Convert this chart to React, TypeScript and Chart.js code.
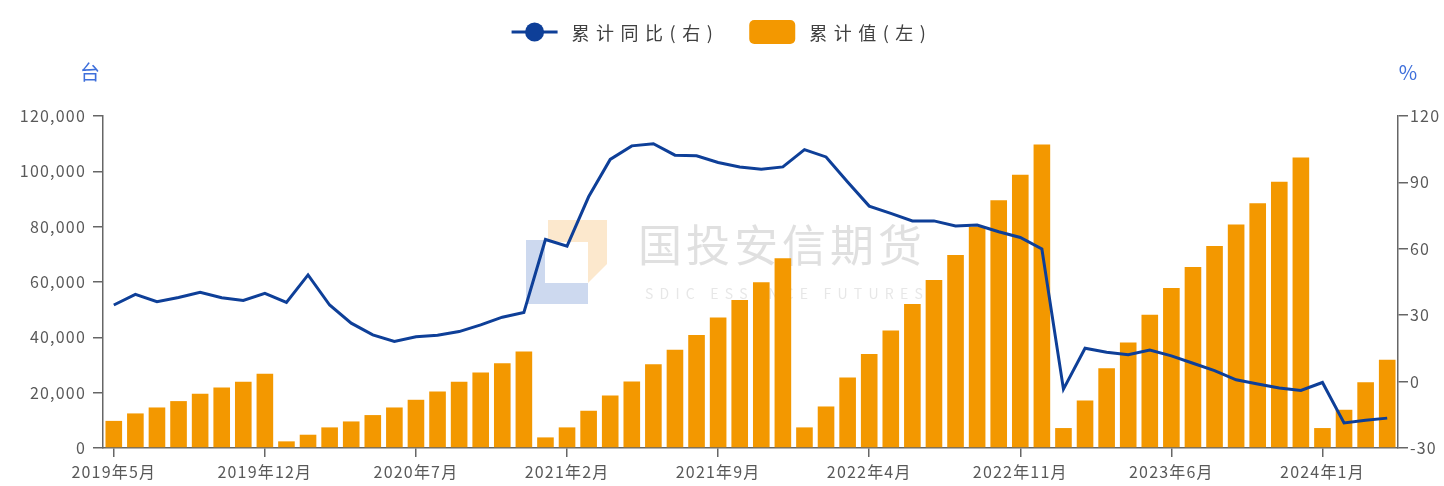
import React, { useEffect, useRef } from 'react';
import { Chart, registerables } from 'chart.js';

Chart.register(...registerables);

// ---------- data ----------
const months = [
  '2019年5月', '2019年6月', '2019年7月', '2019年8月', '2019年9月', '2019年10月', '2019年11月', '2019年12月',
  '2020年1月', '2020年2月', '2020年3月', '2020年4月', '2020年5月', '2020年6月', '2020年7月', '2020年8月',
  '2020年9月', '2020年10月', '2020年11月', '2020年12月',
  '2021年1月', '2021年2月', '2021年3月', '2021年4月', '2021年5月', '2021年6月', '2021年7月', '2021年8月',
  '2021年9月', '2021年10月', '2021年11月', '2021年12月',
  '2022年1月', '2022年2月', '2022年3月', '2022年4月', '2022年5月', '2022年6月', '2022年7月', '2022年8月',
  '2022年9月', '2022年10月', '2022年11月', '2022年12月',
  '2023年1月', '2023年2月', '2023年3月', '2023年4月', '2023年5月', '2023年6月', '2023年7月', '2023年8月',
  '2023年9月', '2023年10月', '2023年11月', '2023年12月',
  '2024年1月', '2024年2月', '2024年3月', '2024年4月',
];

// 累计值 (台), left axis
const cumulativeValue = [
  9800, 12500, 14650, 16950, 19600, 21870, 23920, 26800,
  2400, 4800, 7450, 9600, 11900, 14650, 17430, 20420, 23920, 27280, 30670, 34860,
  3830, 7450, 13460, 18990, 24030, 30300, 35470, 40880, 47130, 53510, 59890, 68550,
  7450, 15010, 25480, 34020, 42440, 52060, 60720, 69740, 79950, 89580, 98720, 109660,
  7210, 17170, 28860, 38100, 48200, 57840, 65410, 72990, 80800, 88500, 96200, 104970,
  7210, 13820, 23800, 31860,
];

// 累计同比 (%), right axis
const cumulativeYoY = [
  34.6, 39.4, 36.1, 38.0, 40.3, 37.9, 36.7, 39.9,
  35.8, 48.2, 34.6, 26.4, 21.1, 18.1, 20.3, 20.9, 22.6, 25.6, 29.1, 31.2,
  64.2, 61.2, 83.5, 100.4, 106.5, 107.5, 102.3, 102.0, 99.0, 97.0, 96.0, 97.0,
  104.8, 101.5, 90.2, 79.3, 76.0, 72.6, 72.6, 70.3, 70.7, 67.7, 65.1, 59.9,
  -3.4, 15.1, 13.3, 12.1, 14.3, 11.6, 8.3, 5.0, 0.8, -1.1, -2.9, -4.0,
  -0.4, -18.7, -17.5, -16.5,
];

const seriesNames = ['累计同比(右)', '累计值(左)'];
const unitLabels = ['台', '%'];
const leftAxisRange = [0, 120000, 20000];
const rightAxisRange = [-30, 120, 30];
const labelEvery = 7;
const watermarkTitle = '国投安信期货';
const watermarkSub = 'SDIC ESSENCE FUTURES';

// ---------- styles ----------
const BAR_COLOR = '#F39800';
const LINE_COLOR = '#0E3F98';
const AXIS_COLOR = '#666666';
const TEXT_COLOR = '#595959';
const UNIT_COLOR = '#3E6FDB';
const CJK = '"Noto Sans CJK SC", "Noto Sans", sans-serif';

function fitSpacing(ctx: CanvasRenderingContext2D, text: string, target: number) {
  (ctx as any).letterSpacing = '0px';
  const w = ctx.measureText(text).width;
  const n = Array.from(text).length;
  return Math.max(0, (target - w) / n);
}

export default function App() {
  const ref = useRef<HTMLCanvasElement | null>(null);

  useEffect(() => {
    document.body.style.margin = '0';
    const canvas = ref.current;
    if (!canvas) return;

    const spacingPlugin = {
      id: 'spacing',
      beforeUpdate(chart: any) {
        chart.ctx.letterSpacing = '1.2px';
      },
    };

    const watermarkPlugin = {
      id: 'watermark',
      beforeDatasetsDraw(chart: any) {
        const ctx = chart.ctx as CanvasRenderingContext2D;
        ctx.save();
        // logo
        ctx.fillStyle = 'rgba(196, 210, 236, 0.85)';
        ctx.beginPath();
        ctx.moveTo(526, 240);
        ctx.lineTo(545, 240);
        ctx.lineTo(545, 283);
        ctx.lineTo(588, 283);
        ctx.lineTo(588, 304);
        ctx.lineTo(526, 304);
        ctx.closePath();
        ctx.fill();
        ctx.fillStyle = 'rgba(252, 228, 196, 0.85)';
        ctx.beginPath();
        ctx.moveTo(548, 220);
        ctx.lineTo(607, 220);
        ctx.lineTo(607, 264);
        ctx.lineTo(588, 283);
        ctx.lineTo(588, 242);
        ctx.lineTo(548, 242);
        ctx.closePath();
        ctx.fill();
        // text
        ctx.textAlign = 'left';
        ctx.textBaseline = 'middle';
        ctx.font = `44px ${CJK}`;
        const s1 = fitSpacing(ctx, watermarkTitle, 288);
        (ctx as any).letterSpacing = `${s1}px`;
        ctx.fillStyle = 'rgba(160,160,160,0.32)';
        ctx.fillText(watermarkTitle, 638, 245);
        ctx.font = `14px ${CJK}`;
        const s2 = fitSpacing(ctx, watermarkSub, 284);
        (ctx as any).letterSpacing = `${s2}px`;
        ctx.fillStyle = 'rgba(170,170,170,0.28)';
        ctx.fillText(watermarkSub, 645, 294);
        ctx.restore();
      },
    };

    const legendAndUnitsPlugin = {
      id: 'legendUnits',
      afterDraw(chart: any) {
        const ctx = chart.ctx as CanvasRenderingContext2D;
        const ds = chart.data.datasets;
        const area = chart.chartArea;
        ctx.save();
        (ctx as any).letterSpacing = '6.5px';
        ctx.font = `18px ${CJK}`;
        ctx.textBaseline = 'middle';
        ctx.textAlign = 'left';
        const y = 32;
        const symW = 46;
        const gapSym = 14;
        const gapItem = 30;
        const w1 = ctx.measureText(ds[0].label).width;
        const w2 = ctx.measureText(ds[1].label).width;
        const total = symW + gapSym + w1 + gapItem + symW + gapSym + w2;
        let x = chart.width / 2 - total / 2;
        // line symbol
        ctx.strokeStyle = ds[0].borderColor;
        ctx.lineWidth = 3;
        ctx.beginPath();
        ctx.moveTo(x, y);
        ctx.lineTo(x + symW, y);
        ctx.stroke();
        ctx.fillStyle = ds[0].borderColor;
        ctx.beginPath();
        ctx.arc(x + symW / 2, y, 9.5, 0, Math.PI * 2);
        ctx.fill();
        x += symW + gapSym;
        ctx.fillStyle = '#404040';
        ctx.fillText(ds[0].label, x, y + 1);
        x += w1 + gapItem;
        // bar symbol
        ctx.fillStyle = ds[1].backgroundColor;
        ctx.beginPath();
        (ctx as any).roundRect(x, y - 12, symW, 24, 5);
        ctx.fill();
        x += symW + gapSym;
        ctx.fillStyle = '#404040';
        ctx.fillText(ds[1].label, x, y + 1);
        // units
        (ctx as any).letterSpacing = '0px';
        ctx.font = `20px ${CJK}`;
        ctx.fillStyle = UNIT_COLOR;
        ctx.textAlign = 'center';
        ctx.fillText(unitLabels[0], area.left - 13, 72);
        ctx.fillText(unitLabels[1], area.right + 10, 72);
        ctx.restore();
      },
    };

    const chart = new Chart(canvas, {
      type: 'bar',
      data: {
        labels: months,
        datasets: [
          {
            type: 'line',
            label: seriesNames[0],
            data: cumulativeYoY,
            yAxisID: 'yRight',
            borderColor: LINE_COLOR,
            backgroundColor: LINE_COLOR,
            borderWidth: 3,
            pointRadius: 0,
            tension: 0,
            order: 0,
          } as any,
          {
            type: 'bar',
            label: seriesNames[1],
            data: cumulativeValue,
            yAxisID: 'yLeft',
            backgroundColor: BAR_COLOR,
            borderWidth: 0,
            categoryPercentage: 1,
            barPercentage: 0.77,
            order: 1,
          },
        ],
      },
      options: {
        responsive: false,
        animation: false,
        devicePixelRatio: 1,
        layout: { padding: { top: 116, left: 0, right: 0, bottom: 0 } },
        plugins: {
          legend: { display: false },
          tooltip: { enabled: false },
        },
        scales: {
          x: {
            offset: true,
            grid: {
              display: true,
              drawOnChartArea: false,
              drawTicks: true,
              offset: false,
              tickLength: 9,
              color: (c: any) => (c.index % labelEvery === 0 ? AXIS_COLOR : 'rgba(0,0,0,0)'),
              lineWidth: 1.5,
            },
            border: { display: true, color: AXIS_COLOR, width: 1.5 },
            ticks: {
              autoSkip: false,
              maxRotation: 0,
              minRotation: 0,
              padding: 5,
              color: TEXT_COLOR,
              font: { family: CJK, size: 16 },
              callback: (_v: any, i: number) => (i % labelEvery === 0 ? months[i] : ''),
            },
            afterFit: (s: any) => {
              s.height = 38;
            },
          },
          yLeft: {
            type: 'linear',
            position: 'left',
            min: leftAxisRange[0],
            max: leftAxisRange[1],
            grid: {
              display: true,
              drawOnChartArea: false,
              drawTicks: true,
              tickLength: 10,
              color: AXIS_COLOR,
              lineWidth: 1.5,
            },
            border: { display: true, color: AXIS_COLOR, width: 1.5 },
            ticks: {
              stepSize: leftAxisRange[2],
              padding: 7,
              color: TEXT_COLOR,
              font: { family: CJK, size: 16 },
              callback: (v: any) => Number(v).toLocaleString('en-US'),
            },
            afterFit: (s: any) => {
              s.width = 103;
            },
          },
          yRight: {
            type: 'linear',
            position: 'right',
            min: rightAxisRange[0],
            max: rightAxisRange[1],
            grid: {
              display: true,
              drawOnChartArea: false,
              drawTicks: true,
              tickLength: 10,
              color: AXIS_COLOR,
              lineWidth: 1.5,
            },
            border: { display: true, color: AXIS_COLOR, width: 1.5 },
            ticks: {
              stepSize: rightAxisRange[2],
              padding: 2,
              color: TEXT_COLOR,
              font: { family: CJK, size: 16 },
            },
            afterFit: (s: any) => {
              s.width = 46;
            },
          },
        },
      },
      plugins: [spacingPlugin, watermarkPlugin, legendAndUnitsPlugin],
    });

    return () => chart.destroy();
  }, []);

  return (
    <div style={{ width: 1444, height: 486, background: '#ffffff' }}>
      <canvas ref={ref} width={1444} height={486} />
    </div>
  );
}
